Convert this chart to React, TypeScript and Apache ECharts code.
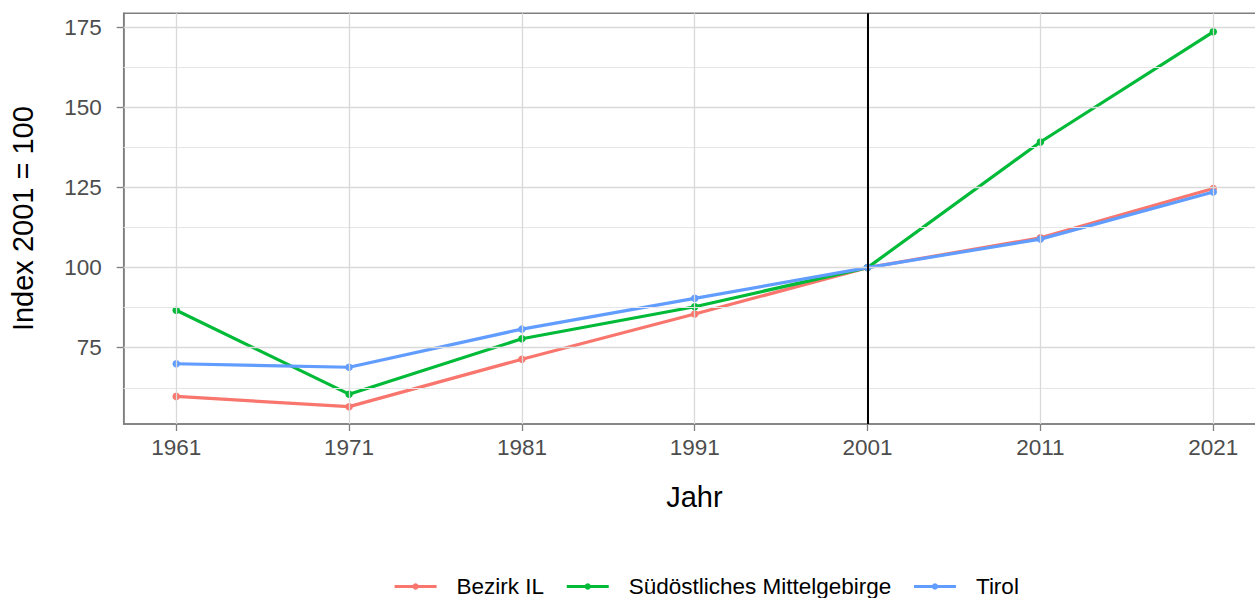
import React, { useEffect, useRef } from "react";
import * as echarts from "echarts";

const years = [1961, 1971, 1981, 1991, 2001, 2011, 2021];
const bezirkIL = [59.8, 56.6, 71.4, 85.5, 100, 109.3, 124.7];
const suedoestlich = [86.7, 60.5, 77.8, 87.8, 100, 139.2, 173.6];
const tirol = [70.0, 68.9, 80.8, 90.4, 100, 108.9, 123.6];
const yTicks = [75, 100, 125, 150, 175];
const yMinor = [62.5, 87.5, 112.5, 137.5, 162.5];
const seriesNames = ["Bezirk IL", "Südöstliches Mittelgebirge", "Tirol"];
const seriesColors = ["#F8766D", "#00BA38", "#619CFF"];
const refYear = 2001;

const FONT = "'Liberation Sans', Arial, sans-serif";

export default function App() {
  const ref = useRef<HTMLDivElement>(null);
  useEffect(() => {
    if (!ref.current) return;
    const chart = echarts.init(ref.current, null, { renderer: "svg" });
    const allData = [bezirkIL, suedoestlich, tirol];
    const gridLeft = 123.7;
    const gridTop = 13.3;
    const gridBottomY = 424;
    const plotRight = 1265.1;
    const W = 1275;
    const H = 598;
    const noLabel = { show: false };
    chart.setOption({
      animation: false,
      backgroundColor: "#ffffff",
      textStyle: { fontFamily: FONT },
      grid: {
        left: gridLeft,
        top: gridTop,
        right: W - plotRight,
        bottom: H - gridBottomY,
        show: true,
        borderColor: "#7f7f7f",
        borderWidth: 1.5,
        backgroundColor: "transparent",
      },
      legend: {
        data: seriesNames.map((n) => ({ name: n, itemStyle: { borderWidth: 0 } })),
        left: 388,
        top: 570,
        itemWidth: 42,
        itemHeight: 8,
        itemGap: 21,
        lineStyle: { width: 3.2 },
        textStyle: {
          fontFamily: FONT,
          fontSize: 22.5,
          color: "#000000",
          padding: [0, 0, 0, 15],
        },
      },
      xAxis: {
        type: "value",
        min: 1957.96,
        max: 2024,
        splitLine: { show: false },
        axisLine: { show: true, lineStyle: { color: "#7f7f7f", width: 1.5 } },
        axisTick: {
          show: true,
          length: 7,
          customValues: years,
          lineStyle: { color: "#7f7f7f", width: 1.3 },
        },
        axisLabel: {
          customValues: years,
          margin: 12,
          fontSize: 22.5,
          color: "#4d4d4d",
          fontFamily: FONT,
          formatter: (v: number) => String(v),
        },
      },
      yAxis: {
        type: "value",
        min: 51.19,
        max: 179.37,
        splitLine: { show: false },
        axisLine: { show: true, lineStyle: { color: "#7f7f7f", width: 1.5 } },
        axisTick: {
          show: true,
          length: 7,
          customValues: yTicks,
          lineStyle: { color: "#7f7f7f", width: 1.3 },
        },
        axisLabel: {
          customValues: yTicks,
          margin: 22,
          fontSize: 22.5,
          color: "#4d4d4d",
          fontFamily: FONT,
        },
      },
      graphic: [
        {
          type: "text",
          x: 23,
          y: (gridTop + gridBottomY) / 2,
          rotation: Math.PI / 2,
          style: {
            text: "Index 2001 = 100",
            fontSize: 29,
            fontFamily: FONT,
            fill: "#000000",
            align: "center",
            verticalAlign: "middle",
          },
        },
        {
          type: "text",
          x: (gridLeft + plotRight) / 2,
          y: 497,
          style: {
            text: "Jahr",
            fontSize: 29,
            fontFamily: FONT,
            fill: "#000000",
            align: "center",
            verticalAlign: "middle",
          },
        },
      ],
      series: [
        {
          type: "line",
          name: "__grid",
          data: [],
          silent: true,
          z: 1,
          markLine: {
            silent: true,
            symbol: ["none", "none"],
            label: noLabel,
            emphasis: { disabled: true },
            animation: false,
            data: [
              ...yMinor.map((v) => ({ yAxis: v, lineStyle: { color: "#e6e6e6", width: 1, type: "solid" } })),
              ...yTicks.map((v) => ({ yAxis: v, lineStyle: { color: "#d9d9d9", width: 1.3, type: "solid" } })),
              ...years.map((v) => ({ xAxis: v, lineStyle: { color: "#d9d9d9", width: 1.3, type: "solid" } })),
            ],
          },
        },
        {
          type: "line",
          name: "__ref",
          data: [],
          silent: true,
          z: 2,
          markLine: {
            silent: true,
            symbol: ["none", "none"],
            label: noLabel,
            emphasis: { disabled: true },
            animation: false,
            data: [{ xAxis: refYear, lineStyle: { color: "#000000", width: 2, type: "solid" } }],
          },
        },
        ...seriesNames.map((name, i) => ({
          type: "line",
          name,
          z: 3,
          data: years.map((y, j) => [y, allData[i][j]]),
          symbol: "circle",
          symbolSize: 7.5,
          showSymbol: true,
          lineStyle: { color: seriesColors[i], width: 3.2 },
          itemStyle: { color: seriesColors[i], borderWidth: 0 },
          emphasis: { disabled: true },
        })),
      ],
    });
    return () => chart.dispose();
  }, []);
  return (
    <div
      style={{
        position: "fixed",
        left: 0,
        top: 0,
        width: 1255,
        height: 598,
        overflow: "hidden",
        background: "#fff",
      }}
    >
      <div ref={ref} style={{ width: 1275, height: 598 }} />
    </div>
  );
}
